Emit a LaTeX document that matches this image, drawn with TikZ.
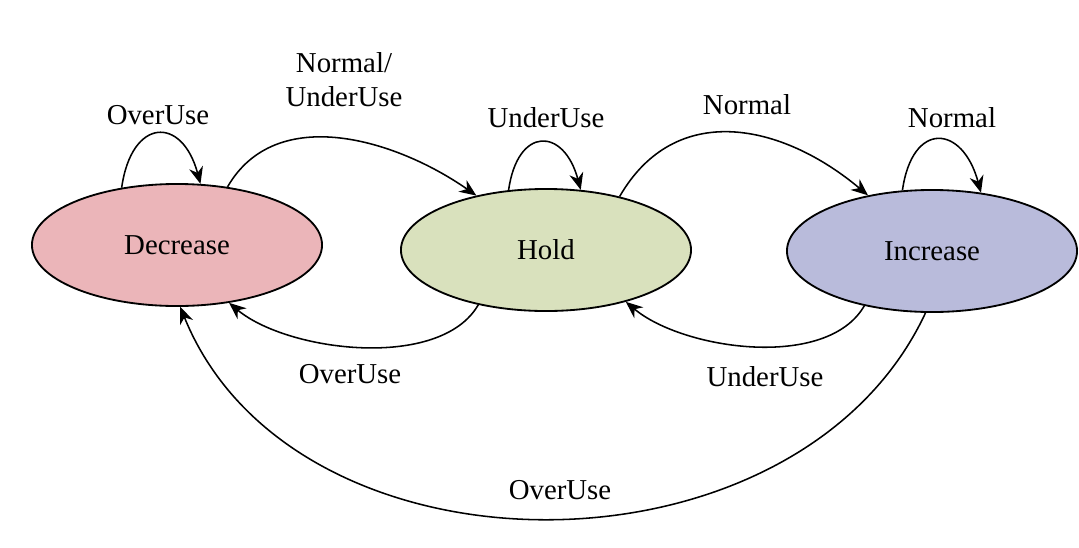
\documentclass[tikz,border=0pt]{standalone}
\usepackage{fontspec}
\setmainfont{Liberation Serif}
\usetikzlibrary{shapes.geometric,arrows.meta}

\definecolor{decfill}{RGB}{235,181,185}
\definecolor{holdfill}{RGB}{217,225,189}
\definecolor{incfill}{RGB}{185,187,219}

\begin{document}
\begin{tikzpicture}[x=0.025cm,y=-0.025cm,
    every node/.style={font=\fontsize{20.5}{24}\selectfont},
    state/.style={ellipse,draw,line width=1.3pt,minimum width=7.25cm,minimum height=3.05cm},
    trans/.style={-{Stealth[length=12pt,width=10pt]},line width=1.1pt},
    selfloop/.style={out=82,in=105,looseness=2.3}]
    \useasboundingbox (0,0) rectangle (1079,547);

    \node[state,fill=decfill] (Dec) at (177,245) {Decrease};
    \node[state,fill=holdfill] (Hold) at (546,250) {Hold};
    \node[state,fill=incfill] (Inc) at (932,251) {Increase};

    \node (lDec) at (158,115) {OverUse};
    \node[align=center] (lDecHold) at (344,80) {Normal/\\UnderUse};
    \node (lHold) at (546,118) {UnderUse};
    \node (lHoldInc) at (747,105) {Normal};
    \node (lInc) at (952,118) {Normal};
    \node (lHoldDec) at (350,374) {OverUse};
    \node (lIncHold) at (765,377) {UnderUse};
    \node (lIncDec) at (560,490) {OverUse};

    \path[trans] (Dec.134) edge[selfloop] (Dec.69);
    \path[trans] (Dec.49) edge[out=60,in=145] (Hold.142);
    \path[trans] (Hold.122) edge[selfloop] (Hold.60);
    \path[trans] (Hold.36) edge[out=60,in=140,looseness=1.15] (Inc.139);
    \path[trans] (Inc.116) edge[selfloop] (Inc.50);
    \path[trans] (Inc.-141) edge[out=-120,in=-40,looseness=0.8] (Hold.-33);
    \path[trans] (Hold.-141) edge[out=-120,in=-40,looseness=0.78] (Dec.-48);
    \path[trans] (Inc.-96) edge[out=-115,in=-68,looseness=1.04] (Dec.-87);
\end{tikzpicture}
\end{document}
